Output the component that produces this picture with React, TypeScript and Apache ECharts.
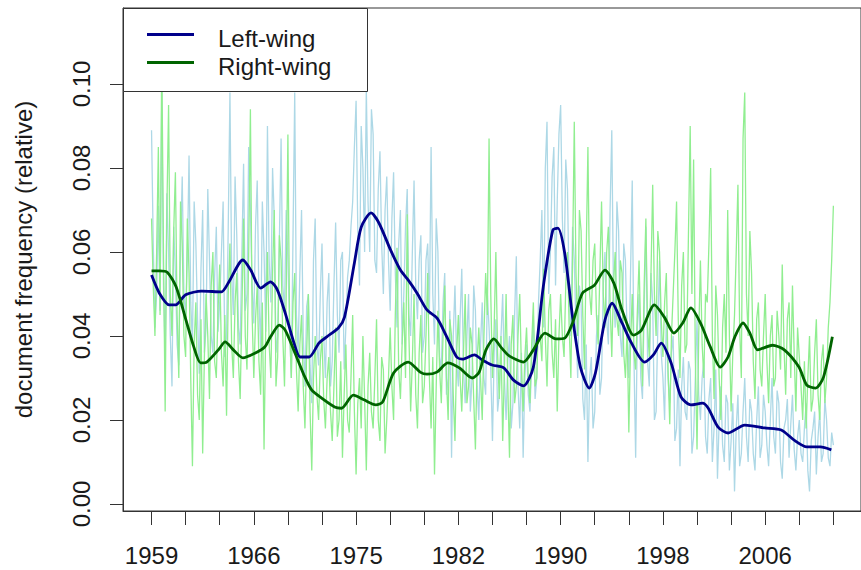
import React, { useEffect, useRef } from "react";
import * as echarts from "echarts";

// x positions are observation index units (ticks every 1 unit, labels every 3)
const tickLabels = ["1959", "1966", "1975", "1982", "1990", "1998", "2006"];
const labelPositions = [0, 3, 6, 9, 12, 15, 18];
const tickPositions = [0, 1, 2, 3, 4, 5, 6, 7, 8, 9, 10, 11, 12, 13, 14, 15, 16, 17, 18, 19, 20];
const yTicks = [0, 0.02, 0.04, 0.06, 0.08, 0.1];
const seriesNames = ["Left-wing", "Right-wing"];
const RAW_STEP = 0.05;

const leftRaw = [
  0.089, 0.062, 0.042, 0.050, 0.071, 0.046, 0.098, 0.052, 0.035, 0.074, 0.060, 0.040, 0.028, 0.066, 0.055, 0.038, 0.033, 0.061, 0.078, 0.050,
  0.045, 0.058, 0.083, 0.048, 0.038, 0.072, 0.062, 0.044, 0.031, 0.056, 0.070, 0.036, 0.042, 0.075, 0.058, 0.040, 0.036, 0.054, 0.066, 0.041,
  0.048, 0.060, 0.072, 0.035, 0.040, 0.066, 0.098, 0.055, 0.045, 0.078, 0.064, 0.042, 0.038, 0.060, 0.081, 0.046, 0.050, 0.085, 0.070, 0.052,
  0.043, 0.066, 0.077, 0.049, 0.037, 0.072, 0.060, 0.041, 0.090, 0.058, 0.048, 0.080, 0.068, 0.036, 0.040, 0.063, 0.087, 0.052, 0.046, 0.070,
  0.058, 0.042, 0.030, 0.064, 0.098, 0.045, 0.036, 0.055, 0.070, 0.040, 0.028, 0.047, 0.050, 0.033, 0.024, 0.058, 0.068, 0.038, 0.033, 0.050,
  0.062, 0.040, 0.030, 0.048, 0.055, 0.028, 0.034, 0.052, 0.067, 0.045, 0.036, 0.058, 0.060, 0.032, 0.042, 0.054, 0.058, 0.066, 0.072, 0.085,
  0.096, 0.065, 0.052, 0.090, 0.080, 0.060, 0.099, 0.072, 0.060, 0.094, 0.088, 0.058, 0.055, 0.075, 0.084, 0.062, 0.050, 0.070, 0.078, 0.058,
  0.046, 0.068, 0.079, 0.055, 0.042, 0.062, 0.070, 0.038, 0.050, 0.066, 0.075, 0.045, 0.040, 0.060, 0.077, 0.052, 0.044, 0.058, 0.064, 0.036,
  0.040, 0.058, 0.062, 0.045, 0.085, 0.050, 0.038, 0.068, 0.060, 0.035, 0.032, 0.048, 0.055, 0.026, 0.030, 0.046, 0.011, 0.040, 0.052, 0.034,
  0.028, 0.044, 0.056, 0.032, 0.024, 0.040, 0.050, 0.022, 0.030, 0.052, 0.046, 0.028, 0.020, 0.038, 0.048, 0.030, 0.026, 0.050, 0.042, 0.032,
  0.015, 0.036, 0.044, 0.022, 0.026, 0.040, 0.050, 0.030, 0.020, 0.034, 0.040, 0.018, 0.024, 0.045, 0.059, 0.028, 0.018, 0.036, 0.011, 0.030,
  0.038, 0.026, 0.022, 0.034, 0.045, 0.025, 0.030, 0.048, 0.058, 0.070, 0.042, 0.080, 0.091, 0.050, 0.060, 0.078, 0.085, 0.052, 0.072, 0.088,
  0.095, 0.068, 0.055, 0.082, 0.075, 0.050, 0.040, 0.066, 0.058, 0.042, 0.030, 0.052, 0.048, 0.025, 0.020, 0.038, 0.010, 0.030, 0.035, 0.018,
  0.022, 0.040, 0.045, 0.026, 0.030, 0.052, 0.060, 0.044, 0.038, 0.070, 0.089, 0.050, 0.042, 0.072, 0.065, 0.040, 0.035, 0.062, 0.058, 0.040,
  0.030, 0.055, 0.077, 0.035, 0.011, 0.042, 0.050, 0.030, 0.025, 0.046, 0.066, 0.034, 0.028, 0.055, 0.048, 0.020, 0.022, 0.042, 0.058, 0.036,
  0.030, 0.020, 0.045, 0.030, 0.024, 0.036, 0.040, 0.015, 0.018, 0.032, 0.009, 0.028, 0.035, 0.022, 0.020, 0.034, 0.032, 0.012, 0.016, 0.030,
  0.044, 0.026, 0.020, 0.030, 0.034, 0.016, 0.012, 0.025, 0.030, 0.010, 0.018, 0.032, 0.006, 0.020, 0.028, 0.014, 0.010, 0.026, 0.024, 0.008,
  0.015, 0.024, 0.003, 0.018, 0.026, 0.009, 0.012, 0.022, 0.030, 0.016, 0.010, 0.025, 0.022, 0.012, 0.008, 0.020, 0.028, 0.011, 0.014, 0.026,
  0.022, 0.014, 0.009, 0.020, 0.030, 0.016, 0.012, 0.027, 0.024, 0.010, 0.006, 0.018, 0.020, 0.025, 0.011, 0.019, 0.026, 0.013, 0.008, 0.016,
  0.020, 0.012, 0.010, 0.018, 0.024, 0.008, 0.003, 0.015, 0.018, 0.022, 0.007, 0.016, 0.022, 0.010, 0.012, 0.025, 0.020, 0.011, 0.009, 0.017,
  0.014,
];

const rightRaw = [
  0.068, 0.052, 0.040, 0.060, 0.085, 0.045, 0.108, 0.060, 0.022, 0.070, 0.095, 0.050, 0.040, 0.065, 0.079, 0.045, 0.030, 0.072, 0.062, 0.040,
  0.035, 0.068, 0.055, 0.030, 0.009, 0.038, 0.048, 0.026, 0.020, 0.044, 0.012, 0.035, 0.050, 0.040, 0.025, 0.052, 0.060, 0.034, 0.030, 0.046,
  0.057, 0.036, 0.028, 0.045, 0.021, 0.050, 0.062, 0.038, 0.030, 0.048, 0.055, 0.034, 0.025, 0.046, 0.068, 0.040, 0.032, 0.060, 0.094, 0.045,
  0.030, 0.044, 0.052, 0.034, 0.026, 0.048, 0.013, 0.042, 0.060, 0.038, 0.030, 0.055, 0.070, 0.028, 0.035, 0.064, 0.058, 0.040, 0.028, 0.050,
  0.088, 0.042, 0.030, 0.048, 0.055, 0.032, 0.022, 0.038, 0.045, 0.028, 0.018, 0.036, 0.050, 0.022, 0.008, 0.030, 0.040, 0.026, 0.020, 0.034,
  0.040, 0.025, 0.018, 0.030, 0.035, 0.022, 0.015, 0.028, 0.042, 0.016, 0.020, 0.034, 0.011, 0.026, 0.038, 0.020, 0.017, 0.030, 0.045, 0.022,
  0.007, 0.024, 0.030, 0.018, 0.040, 0.025, 0.008, 0.028, 0.036, 0.022, 0.018, 0.030, 0.044, 0.020, 0.015, 0.035, 0.032, 0.012, 0.020, 0.030,
  0.042, 0.028, 0.020, 0.045, 0.061, 0.032, 0.025, 0.038, 0.048, 0.030, 0.069, 0.040, 0.022, 0.034, 0.050, 0.026, 0.018, 0.036, 0.045, 0.024,
  0.028, 0.040, 0.055, 0.030, 0.018, 0.035, 0.007, 0.028, 0.046, 0.032, 0.024, 0.040, 0.052, 0.030, 0.020, 0.044, 0.040, 0.026, 0.015, 0.036,
  0.045, 0.030, 0.022, 0.036, 0.050, 0.024, 0.028, 0.042, 0.038, 0.025, 0.013, 0.034, 0.042, 0.030, 0.020, 0.040, 0.055, 0.045, 0.087, 0.050,
  0.030, 0.042, 0.060, 0.036, 0.025, 0.040, 0.015, 0.032, 0.050, 0.028, 0.011, 0.038, 0.045, 0.024, 0.028, 0.040, 0.050, 0.032, 0.022, 0.035,
  0.042, 0.030, 0.024, 0.038, 0.048, 0.028, 0.030, 0.044, 0.040, 0.034, 0.056, 0.040, 0.028, 0.046, 0.050, 0.036, 0.030, 0.044, 0.022, 0.040,
  0.050, 0.040, 0.035, 0.052, 0.060, 0.042, 0.030, 0.058, 0.091, 0.055, 0.040, 0.070, 0.065, 0.045, 0.032, 0.060, 0.085, 0.050, 0.045, 0.058,
  0.062, 0.045, 0.038, 0.055, 0.072, 0.050, 0.042, 0.060, 0.066, 0.048, 0.035, 0.052, 0.060, 0.044, 0.040, 0.058, 0.055, 0.036, 0.030, 0.042,
  0.017, 0.038, 0.050, 0.036, 0.032, 0.046, 0.058, 0.040, 0.028, 0.052, 0.068, 0.042, 0.035, 0.055, 0.076, 0.050, 0.040, 0.065, 0.060, 0.044,
  0.035, 0.048, 0.055, 0.032, 0.019, 0.040, 0.050, 0.060, 0.072, 0.044, 0.030, 0.052, 0.060, 0.036, 0.038, 0.065, 0.090, 0.050, 0.082, 0.035,
  0.013, 0.040, 0.058, 0.038, 0.030, 0.050, 0.048, 0.062, 0.080, 0.040, 0.025, 0.052, 0.045, 0.030, 0.020, 0.042, 0.050, 0.036, 0.070, 0.040,
  0.022, 0.036, 0.045, 0.060, 0.076, 0.042, 0.030, 0.087, 0.098, 0.050, 0.040, 0.065, 0.055, 0.034, 0.025, 0.044, 0.048, 0.032, 0.028, 0.040,
  0.050, 0.034, 0.024, 0.040, 0.045, 0.028, 0.030, 0.046, 0.040, 0.032, 0.057, 0.038, 0.026, 0.044, 0.048, 0.030, 0.052, 0.036, 0.022, 0.042,
  0.035, 0.028, 0.020, 0.034, 0.018, 0.030, 0.040, 0.022, 0.025, 0.036, 0.044, 0.026, 0.020, 0.034, 0.038, 0.024, 0.030, 0.042, 0.048, 0.058,
  0.071,
];

const leftSmoothX = [
  0.0, 0.23, 0.52, 0.71, 1.0, 1.47, 2.05, 2.25, 2.68, 2.91, 3.2, 3.49, 3.69, 3.92,
  4.18, 4.36, 4.62, 4.91, 5.14, 5.48, 5.66, 5.95, 6.15, 6.44, 6.67, 7.01, 7.3, 7.53,
  7.79, 8.08, 8.37, 8.66, 8.95, 9.12, 9.47, 9.7, 9.99, 10.33, 10.62, 10.91, 11.2,
  11.49, 11.77, 11.92, 12.12, 12.35, 12.58, 12.84, 13.02, 13.3, 13.51, 13.8, 14.08,
  14.46, 14.72, 14.95, 15.24, 15.53, 15.82, 16.16, 16.33, 16.62, 16.91, 17.4, 17.98,
  18.47, 18.85, 19.22, 19.62, 19.94,
];
const leftSmoothY = [
  0.0545, 0.0502, 0.0474, 0.0474, 0.0498, 0.0507, 0.0505, 0.0526, 0.0581, 0.0557,
  0.0514, 0.0529, 0.051, 0.0455, 0.0383, 0.035, 0.035, 0.0383, 0.0398, 0.0419,
  0.0445, 0.0574, 0.0659, 0.0693, 0.0669, 0.0605, 0.0557, 0.0533, 0.0502, 0.0462,
  0.0443, 0.0398, 0.035, 0.0345, 0.0355, 0.0343, 0.0331, 0.0324, 0.0295, 0.0281,
  0.0326, 0.0517, 0.0652, 0.0657, 0.0597, 0.0445, 0.0326, 0.0276, 0.0312, 0.0438,
  0.0478, 0.0431, 0.0383, 0.0338, 0.0355, 0.0383, 0.0336, 0.0255, 0.0236, 0.024,
  0.0228, 0.0183, 0.0169, 0.0188, 0.0181, 0.0176, 0.0152, 0.0136, 0.0136, 0.0129,
];

const rightSmoothX = [
  0.0, 0.23, 0.46, 0.72, 1.01, 1.24, 1.44, 1.62, 1.96, 2.16, 2.4, 2.68, 3.03, 3.32,
  3.49, 3.75, 3.92, 4.21, 4.47, 4.7, 4.99, 5.37, 5.57, 5.92, 6.23, 6.58, 6.78, 7.1,
  7.53, 7.88, 8.08, 8.37, 8.69, 9.03, 9.41, 9.61, 9.81, 10.04, 10.27, 10.5, 10.91,
  11.2, 11.54, 11.86, 12.12, 12.35, 12.64, 12.99, 13.3, 13.56, 13.8, 14.14, 14.37,
  14.75, 15.04, 15.32, 15.58, 15.82, 16.1, 16.39, 16.68, 16.91, 17.11, 17.35, 17.55,
  17.78, 18.21, 18.56, 18.99, 19.22, 19.48, 19.71, 19.97,
];
const rightSmoothY = [
  0.0555, 0.0555, 0.0552, 0.0517, 0.0438, 0.0374, 0.0336, 0.0338, 0.0367, 0.0386,
  0.0367, 0.0348, 0.0359, 0.0374, 0.0398, 0.0426, 0.0414, 0.0359, 0.0307, 0.0271,
  0.0252, 0.0231, 0.0228, 0.0259, 0.0248, 0.0236, 0.0243, 0.0312, 0.0338, 0.0314,
  0.0309, 0.0314, 0.0336, 0.0324, 0.03, 0.0314, 0.0367, 0.0393, 0.0371, 0.0352,
  0.0338, 0.0367, 0.0407, 0.0393, 0.0395, 0.0431, 0.0502, 0.0521, 0.0557, 0.0526,
  0.0462, 0.0402, 0.0414, 0.0474, 0.0445, 0.0407, 0.0431, 0.0467, 0.0431, 0.0374,
  0.0326, 0.035, 0.0398, 0.0431, 0.0407, 0.0367, 0.0378, 0.0367, 0.0326, 0.0283,
  0.0276, 0.0302, 0.0398,
];

const FONT = '"Liberation Sans", Arial, Helvetica, sans-serif';
const TEXT = "#1a1a1a";
const FRAME = "#333333";

export default function App() {
  const ref = useRef<HTMLDivElement>(null);
  useEffect(() => {
    if (!ref.current) return;
    const chart = echarts.init(ref.current, undefined, { renderer: "svg" });
    const rawPairs = (arr: number[]) => arr.map((v, i) => [i * RAW_STEP, v]);
    const zipPairs = (xs: number[], ys: number[]) => xs.map((x, i) => [x, ys[i]]);
    chart.setOption({
      animation: false,
      backgroundColor: "#ffffff",
      grid: {
        left: 123,
        right: -12,
        top: 8,
        bottom: 59,
        show: true,
        borderColor: FRAME,
        borderWidth: 1,
        backgroundColor: "transparent",
        containLabel: false,
      },
      xAxis: {
        type: "value",
        min: -0.837,
        max: 20.81,
        splitLine: { show: false },
        axisLine: { show: true, onZero: false, lineStyle: { color: FRAME, width: 1 } },
        axisTick: {
          show: true,
          length: 14,
          customValues: tickPositions,
          lineStyle: { color: FRAME, width: 1 },
        },
        axisLabel: {
          customValues: labelPositions,
          formatter: (v: number) => {
            const idx = labelPositions.indexOf(Math.round(v));
            return idx >= 0 ? tickLabels[idx] : "";
          },
          fontSize: 24,
          fontFamily: FONT,
          color: TEXT,
          margin: 32,
        },
      },
      yAxis: {
        type: "value",
        min: -0.00167,
        max: 0.1181,
        name: "document frequency (relative)",
        nameLocation: "middle",
        nameRotate: 90,
        nameGap: 88,
        nameTextStyle: { fontSize: 24, fontFamily: FONT, color: TEXT },
        splitLine: { show: false },
        axisLine: { show: true, onZero: false, lineStyle: { color: FRAME, width: 1 } },
        axisTick: {
          show: true,
          length: 13,
          customValues: yTicks,
          lineStyle: { color: FRAME, width: 1 },
        },
        axisLabel: {
          customValues: yTicks,
          rotate: 90,
          formatter: (v: number) => v.toFixed(2),
          fontSize: 24,
          fontFamily: FONT,
          color: TEXT,
          margin: 30,
        },
      },
      series: [
        {
          type: "line",
          name: seriesNames[0] + " raw",
          data: rawPairs(leftRaw),
          showSymbol: false,
          lineStyle: { color: "#ADD8E6", width: 1.3 },
          z: 1,
        },
        {
          type: "line",
          name: seriesNames[1] + " raw",
          data: rawPairs(rightRaw),
          showSymbol: false,
          lineStyle: { color: "#90EE90", width: 1.3 },
          z: 2,
        },
        {
          type: "line",
          name: seriesNames[0],
          data: zipPairs(leftSmoothX, leftSmoothY),
          showSymbol: false,
          smooth: 0.25,
          lineStyle: { color: "#00008B", width: 2.8 },
          z: 3,
        },
        {
          type: "line",
          name: seriesNames[1],
          data: zipPairs(rightSmoothX, rightSmoothY),
          showSymbol: false,
          smooth: 0.25,
          lineStyle: { color: "#006400", width: 2.8 },
          z: 4,
        },
      ],
      graphic: [
        {
          type: "rect",
          z: 100,
          shape: { x: 123.5, y: 8.5, width: 244, height: 83 },
          style: { fill: "#ffffff", stroke: FRAME, lineWidth: 1 },
        },
        {
          type: "line",
          z: 101,
          shape: { x1: 147, y1: 34.5, x2: 194, y2: 34.5 },
          style: { stroke: "#00008B", lineWidth: 2.8 },
        },
        {
          type: "line",
          z: 101,
          shape: { x1: 147, y1: 62.5, x2: 194, y2: 62.5 },
          style: { stroke: "#006400", lineWidth: 2.8 },
        },
        {
          type: "text",
          z: 101,
          x: 218,
          y: 38,
          style: {
            text: seriesNames[0],
            fontSize: 24,
            fontFamily: FONT,
            fill: TEXT,
            verticalAlign: "middle",
          },
        },
        {
          type: "text",
          z: 101,
          x: 218,
          y: 66,
          style: {
            text: seriesNames[1],
            fontSize: 24,
            fontFamily: FONT,
            fill: TEXT,
            verticalAlign: "middle",
          },
        },
      ],
    });
    return () => chart.dispose();
  }, []);
  return (
    <div
      ref={ref}
      style={{ position: "absolute", left: 0, top: 0, width: 861, height: 570 }}
    />
  );
}
